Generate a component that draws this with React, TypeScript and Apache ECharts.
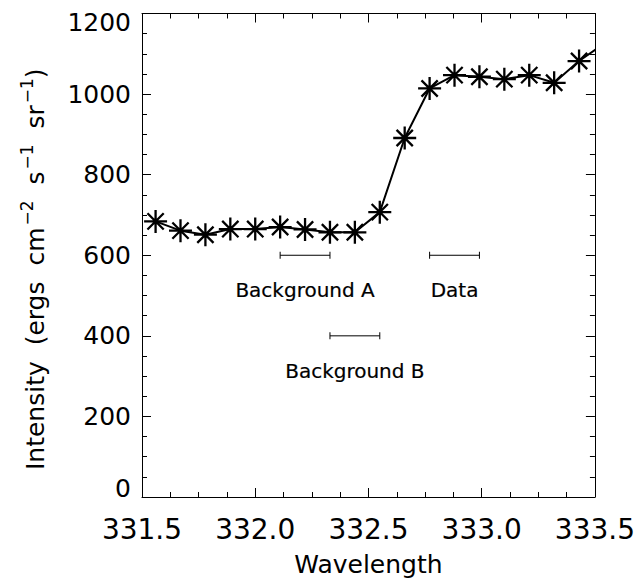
import React, { useEffect, useRef } from "react";
import * as echarts from "echarts";

const wavelengths = [
  331.56, 331.67, 331.78, 331.89, 332.0, 332.11, 332.22, 332.33, 332.44, 332.55,
  332.66, 332.77, 332.88, 332.99, 333.1, 333.21, 333.32, 333.43, 333.54,
];
const intensity = [
  684, 661, 651, 665, 665, 670, 664, 657, 657, 707,
  891, 1014, 1047, 1043, 1037, 1047, 1028, 1082, 1125,
];

const rangeNames = ["Background A", "Data", "Background B"];
const rangeStart = [332.11, 332.77, 332.33];
const rangeEnd = [332.33, 332.99, 332.55];
const rangeLevel = [600, 600, 400];

const xTicks = [331.5, 332.0, 332.5, 333.0, 333.5];
const yTicks = [0, 200, 400, 600, 800, 1000, 1200];

const FONT = "DejaVu Sans";
const STAR =
  "path://M0,-10L0,10M-10,0L10,0M-7.07,-7.07L7.07,7.07M-7.07,7.07L7.07,-7.07";

export default function App() {
  const ref = useRef<HTMLDivElement>(null);
  useEffect(() => {
    if (!ref.current) return;
    const chart = echarts.init(ref.current, null, { renderer: "svg" });
    const axisCommon = {
      axisLine: { show: true, onZero: false, lineStyle: { color: "#000", width: 1 } },
      axisTick: { show: true, inside: true, length: 9, lineStyle: { color: "#000", width: 1 } },
      minorTick: { show: true, splitNumber: 4, length: 5, lineStyle: { color: "#000", width: 1 } },
      splitLine: { show: false },
    };
    const rangeSeries = rangeNames.map((name, i) => ({
      type: "line",
      name,
      data: [
        [rangeStart[i], rangeLevel[i]],
        [rangeEnd[i], rangeLevel[i]],
      ],
      symbol: "rect",
      symbolSize: [1, 7],
      itemStyle: { color: "#000" },
      lineStyle: { color: "#000", width: 1 },
      silent: true,
      z: 3,
    }));
    const labelSeries = {
      type: "scatter",
      data: rangeNames.map((name, i) => ({
        value: [(rangeStart[i] + rangeEnd[i]) / 2, rangeLevel[i]],
        name,
      })),
      symbolSize: 0,
      itemStyle: { color: "#000", opacity: 1 },
      label: {
        show: true,
        position: "bottom",
        distance: 25,
        formatter: (p: any) => p.name,
        color: "#000",
        opacity: 1,
        fontFamily: FONT,
        fontSize: 20,
        textBorderColor: "#000",
        textBorderWidth: 0.2,
      },
      silent: true,
      z: 5,
    };
    chart.setOption({
      animation: false,
      backgroundColor: "#fff",
      grid: { left: 142, right: 43, top: 13.5, bottom: 83, containLabel: false },
      xAxis: [
        {
          type: "value",
          min: xTicks[0],
          max: xTicks[xTicks.length - 1],
          interval: 0.5,
          position: "bottom",
          ...axisCommon,
          axisLabel: {
            color: "#000",
            fontFamily: FONT,
            fontSize: 28,
            margin: 18,
            formatter: (v: number) => v.toFixed(1),
          },
          name: "Wavelength",
          nameLocation: "middle",
          nameGap: 55,
          nameTextStyle: { color: "#000", fontFamily: FONT, fontSize: 25 },
        },
        {
          type: "value",
          min: xTicks[0],
          max: xTicks[xTicks.length - 1],
          interval: 0.5,
          position: "top",
          ...axisCommon,
          axisLabel: { show: false },
        },
      ],
      yAxis: [
        {
          type: "value",
          min: yTicks[0],
          max: yTicks[yTicks.length - 1],
          interval: 200,
          position: "left",
          ...axisCommon,
          axisLabel: {
            color: "#000",
            fontFamily: FONT,
            fontSize: 25,
            margin: 11,
            formatter: (v: number) =>
              v === yTicks[yTicks.length - 1]
                ? `{t|${v}}`
                : v === yTicks[0]
                ? `{b|${v}}`
                : `${v}`,
            rich: {
              t: { fontFamily: FONT, fontSize: 25, color: "#000", padding: [18, 0, 0, 0] },
              b: { fontFamily: FONT, fontSize: 25, color: "#000", padding: [0, 0, 18, 0] },
            },
          },
          name:
            "{a|Intensity  (ergs  cm}{s|−2}{a|  s}{s|−1}{a|  sr}{s|−1}{a|)}",
          nameLocation: "middle",
          nameRotate: 90,
          nameGap: 94,
          nameTextStyle: {
            color: "#000",
            fontFamily: FONT,
            fontSize: 25,
            padding: [0, 28, 0, 0],
            rich: {
              a: { fontFamily: FONT, fontSize: 25, color: "#000", lineHeight: 30, verticalAlign: "bottom" },
              s: { fontFamily: FONT, fontSize: 17, color: "#000", lineHeight: 30, verticalAlign: "top", padding: [0, 0, 0, 2] },
            },
          },
        },
        {
          type: "value",
          min: yTicks[0],
          max: yTicks[yTicks.length - 1],
          interval: 200,
          position: "right",
          ...axisCommon,
          axisLabel: { show: false },
        },
      ],
      series: [
        {
          type: "line",
          data: wavelengths.map((w, i) => [w, intensity[i]]),
          symbol: STAR,
          symbolSize: 23,
          showAllSymbol: true,
          itemStyle: { color: "none", borderColor: "#000", borderWidth: 2.3 },
          lineStyle: { color: "#000", width: 2 },
          clip: true,
          silent: true,
          z: 4,
        },
        ...rangeSeries,
        labelSeries,
      ],
    });
    return () => chart.dispose();
  }, []);
  return <div ref={ref} style={{ width: 638, height: 582, position: "absolute", left: 0, top: 0 }} />;
}
